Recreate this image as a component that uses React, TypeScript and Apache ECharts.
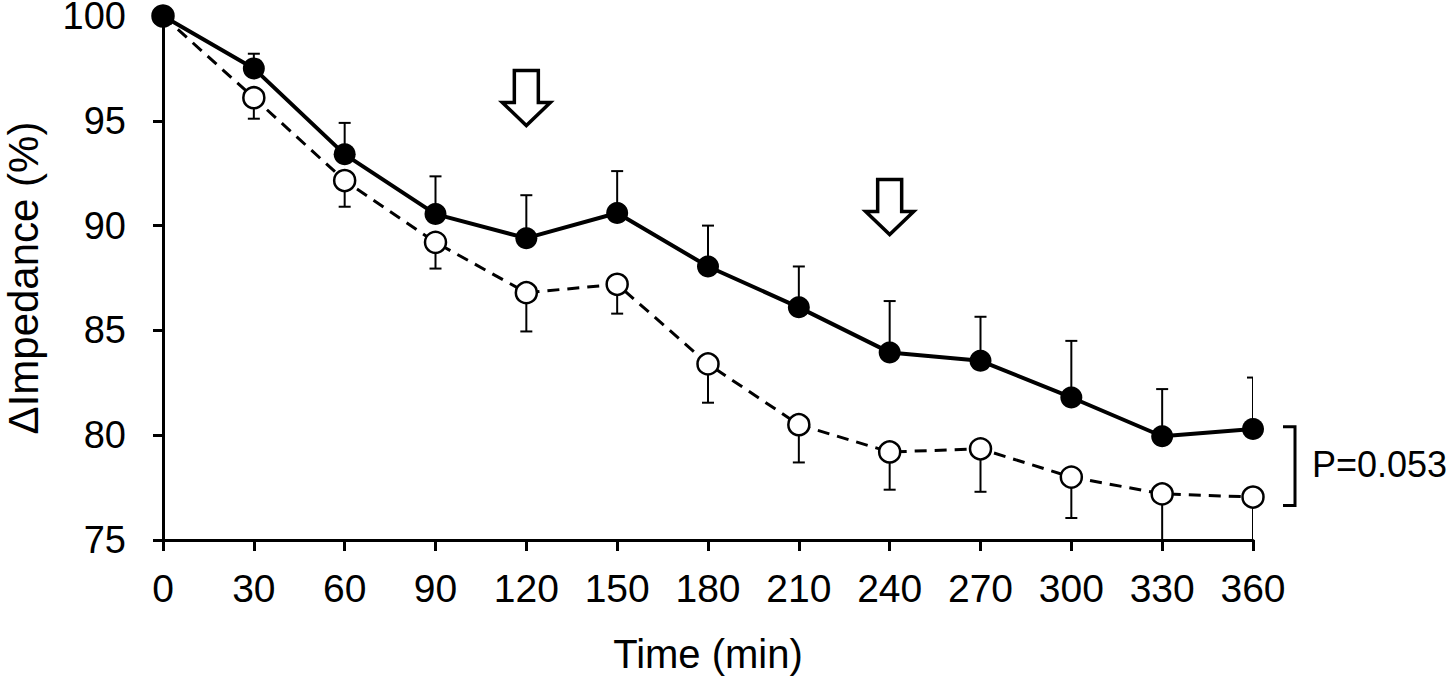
import React, { useEffect, useRef } from "react";
import * as echarts from "echarts";

// ---- Data ----
const times = [0, 30, 60, 90, 120, 150, 180, 210, 240, 270, 300, 330, 360];
// filled circles, solid line (error bars upward)
const solidMean = [100, 97.5, 93.4, 90.55, 89.4, 90.6, 88.05, 86.1, 83.95, 83.55, 81.8, 79.95, 80.3];
const solidErr = [0, 0.7, 1.5, 1.8, 2.05, 2.0, 1.95, 1.95, 2.45, 2.1, 2.7, 2.25, 2.45];
// open circles, dashed line (error bars downward)
const openMean = [100, 96.1, 92.15, 89.2, 86.8, 87.2, 83.4, 80.5, 79.2, 79.35, 78.0, 77.2, 77.05];
const openErr = [0, 1.0, 1.25, 1.25, 1.85, 1.4, 1.85, 1.8, 1.8, 2.05, 1.95, 2.4, 2.3];

const xTickInterval = 30;
const yMin = 75;
const yMax = 100;
const yTickInterval = 5;

// annotations
const arrowTimes = [120, 240];
const arrowTopValues = [97.4, 92.2];
const bracketValues = [80.4, 76.65];
const pLabel = "P=0.053";
const xName = "Time (min)";
const yName = "\u0394Impedance (%)";

const FONT = "'Liberation Sans', Arial, Helvetica, sans-serif";

export default function App() {
  const ref = useRef<HTMLDivElement>(null);

  useEffect(() => {
    if (!ref.current) return;
    const chart = echarts.init(ref.current, undefined, { renderer: "svg" });

    const errData: number[][] = [];
    times.forEach((t, i) => {
      if (solidErr[i] > 0) errData.push([t, solidMean[i], solidErr[i], 1]);
      if (openErr[i] > 0) errData.push([t, openMean[i], openErr[i], -1]);
    });

    const option: any = {
      animation: false,
      backgroundColor: "#fff",
      grid: {
        left: 163,
        right: 196,
        top: 16,
        bottom: 136,
        containLabel: false,
        outerBoundsMode: "none",
      },
      xAxis: {
        type: "value",
        min: 0,
        max: 360,
        interval: xTickInterval,
        name: xName,
        nameLocation: "middle",
        nameGap: 94,
        nameTextStyle: { color: "#000", fontSize: 40, fontFamily: FONT },
        axisLine: { show: true, onZero: false, lineStyle: { color: "#000", width: 3 } },
        axisTick: { show: true, inside: false, length: 11, lineStyle: { color: "#000", width: 3 } },
        axisLabel: { color: "#000", fontSize: 39, fontFamily: FONT, margin: 29 },
        splitLine: { show: false },
      },
      yAxis: {
        type: "value",
        min: yMin,
        max: yMax,
        interval: yTickInterval,
        name: yName,
        nameLocation: "middle",
        nameGap: 119,
        nameTextStyle: { color: "#000", fontSize: 42, fontFamily: FONT },
        axisLine: { show: true, onZero: false, lineStyle: { color: "#000", width: 3 } },
        axisTick: { show: true, inside: false, length: 10, lineStyle: { color: "#000", width: 3 } },
        axisLabel: { color: "#000", fontSize: 38, lineHeight: 30, fontFamily: FONT, margin: 37 },
        splitLine: { show: false },
      },
      series: [
        {
          type: "custom",
          name: "errors",
          clip: true,
          z: 1,
          silent: true,
          data: errData,
          renderItem: (params: any, api: any) => {
            const x = api.value(0);
            const m = api.value(1);
            const e = api.value(2);
            const d = api.value(3);
            const p0 = api.coord([x, m]);
            const p1 = api.coord([x, m + d * e]);
            const hw = 6;
            return {
              type: "group",
              children: [
                {
                  type: "line",
                  shape: { x1: p0[0], y1: p0[1], x2: p1[0], y2: p1[1] },
                  style: { stroke: "#000", lineWidth: 2 },
                },
                {
                  type: "line",
                  shape: { x1: p1[0] - hw, y1: p1[1], x2: p1[0] + hw, y2: p1[1] },
                  style: { stroke: "#000", lineWidth: 2 },
                },
              ],
            };
          },
        },
        {
          type: "line",
          name: "open",
          z: 2,
          data: times.map((t, i) => [t, openMean[i]]),
          symbol: "circle",
          symbolSize: 21,
          showAllSymbol: true,
          lineStyle: { color: "#000", width: 3, type: [12, 8] },
          itemStyle: { color: "#fff", borderColor: "#000", borderWidth: 2.5 },
        },
        {
          type: "line",
          name: "solid",
          z: 3,
          data: times.map((t, i) => [t, solidMean[i]]),
          symbol: "circle",
          symbolSize: 22,
          showAllSymbol: true,
          lineStyle: { color: "#000", width: 4 },
          itemStyle: { color: "#000", borderColor: "#000", borderWidth: 0 },
        },
      ],
    };

    chart.setOption(option);

    const px = (v: number[]) => chart.convertToPixel({ gridIndex: 0 }, v) as number[];
    const graphics: any[] = [];
    arrowTimes.forEach((t, i) => {
      const p = px([t, arrowTopValues[i]]);
      const sw = 12, sh = 32, hw = 24, hh = 23;
      graphics.push({
        type: "polygon",
        shape: {
          points: [
            [p[0] - sw, p[1]],
            [p[0] + sw, p[1]],
            [p[0] + sw, p[1] + sh],
            [p[0] + hw, p[1] + sh],
            [p[0], p[1] + sh + hh],
            [p[0] - hw, p[1] + sh],
            [p[0] - sw, p[1] + sh],
          ],
        },
        style: { fill: "#fff", stroke: "#000", lineWidth: 3.5, lineJoin: "miter" },
        z: 10,
      });
    });
    const bTop = px([360, bracketValues[0]]);
    const bBot = px([360, bracketValues[1]]);
    graphics.push({
      type: "polyline",
      shape: {
        points: [
          [bTop[0] + 30, bTop[1]],
          [bTop[0] + 42, bTop[1]],
          [bTop[0] + 42, bBot[1]],
          [bTop[0] + 30, bBot[1]],
        ],
      },
      style: { stroke: "#000", lineWidth: 3, fill: "none" },
      z: 10,
    });
    graphics.push({
      type: "text",
      x: bTop[0] + 59,
      y: (bTop[1] + bBot[1]) / 2 - 2,
      style: {
        text: pLabel,
        fill: "#000",
        fontSize: 36,
        fontFamily: FONT,
        align: "left",
        verticalAlign: "middle",
      },
      z: 10,
    });
    chart.setOption({ graphic: graphics });

    return () => {
      chart.dispose();
    };
  }, []);

  return (
    <div
      ref={ref}
      style={{ position: "fixed", left: 0, top: 0, width: 1449, height: 676, background: "#fff" }}
    />
  );
}
